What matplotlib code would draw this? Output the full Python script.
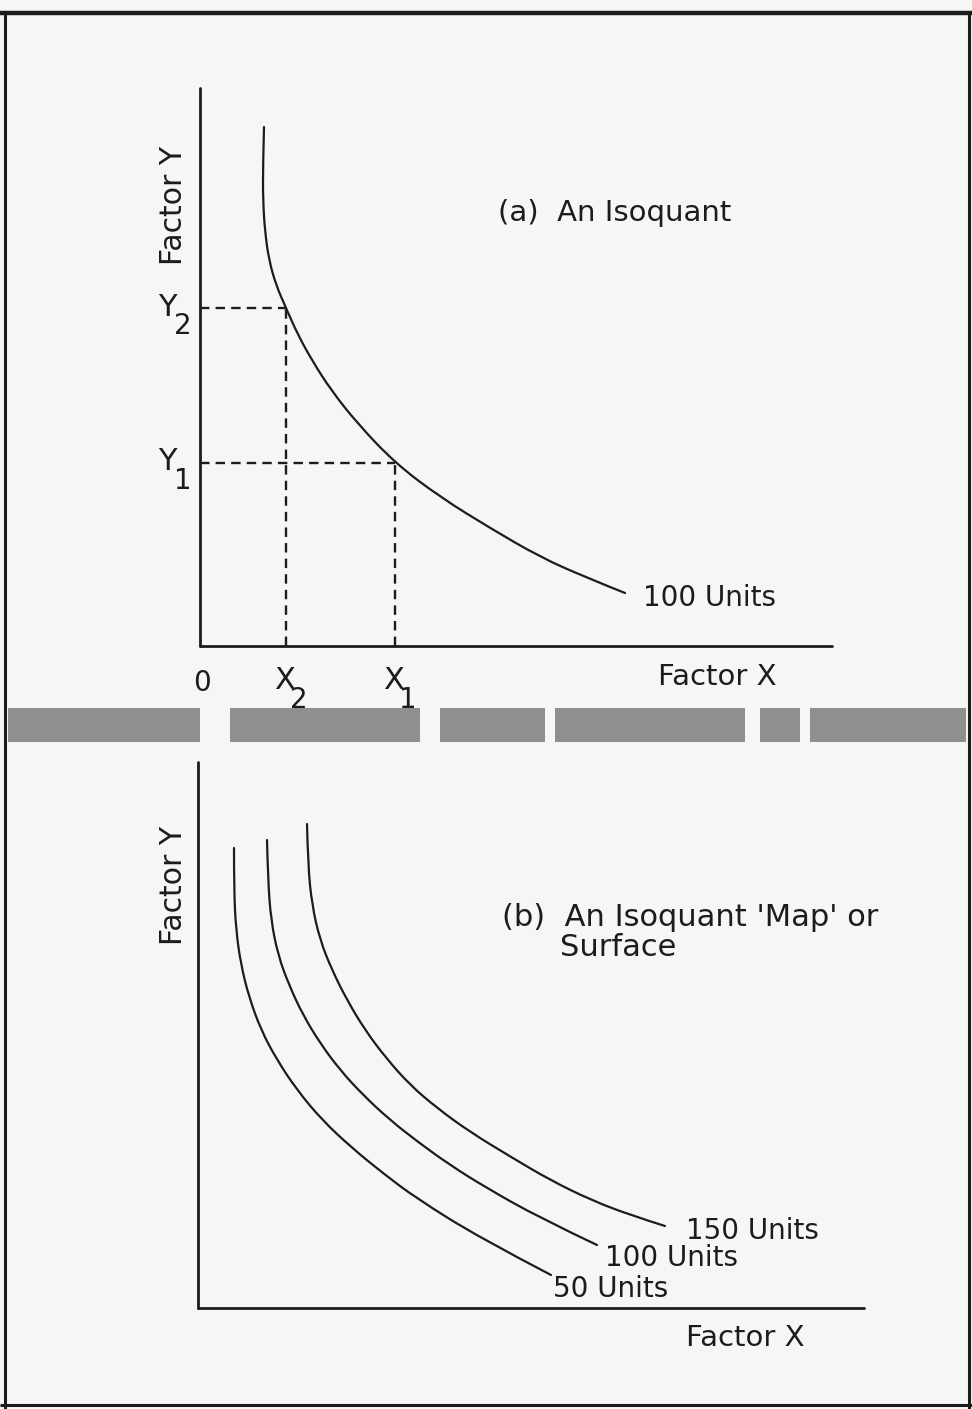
import matplotlib
matplotlib.use("Agg")
import matplotlib.pyplot as plt
from matplotlib.patches import Rectangle, PathPatch
from matplotlib.path import Path
from matplotlib.lines import Line2D

plt.rcParams['font.family'] = ['DejaVu Sans']

# ---------------- data ----------------
# panel (a): one isoquant, 100 units
iso_a_x = [6.4, 6.3, 6.3, 6.5, 6.9, 7.6, 8.6, 9.8, 11.3, 13.1, 15.7, 19.5, 24.0, 29.0, 34.0, 38.5, 42.5]
iso_a_y = [51.9, 48.1, 44.6, 41.4, 38.6, 36.1, 33.8, 31.1, 28.4, 25.6, 22.3, 18.3, 14.9, 11.8, 8.9, 6.9, 5.3]
iso_a_label = "100 Units"
x_levels = [8.6, 19.5]          # X2, X1
y_levels = [33.8, 18.3]         # Y2, Y1
level_names = ["2", "1"]

# panel (b): isoquant map
iso_b_labels = ["50 Units", "100 Units", "150 Units"]
iso_b_x = [
    [3.6, 3.6, 3.8, 4.3, 5.1, 6.3, 7.9, 9.9, 12.4, 15.4, 18.6, 21.8, 28.2, 35.3],
    [6.9, 7.0, 7.3, 8.0, 9.1, 10.5, 12.2, 14.2, 16.5, 19.2, 22.0, 25.2, 28.7, 34.2, 39.9],
    [10.9, 11.0, 11.4, 12.2, 13.4, 14.9, 16.7, 18.8, 21.2, 23.9, 27.2, 31.3, 35.2, 39.3, 43.2, 46.7],
]
iso_b_y = [
    [46.0, 41.8, 37.8, 34.3, 31.1, 27.8, 24.8, 21.8, 18.8, 16.0, 13.4, 11.0, 7.0, 3.3],
    [46.8, 42.8, 38.8, 35.3, 32.3, 29.3, 26.5, 23.8, 21.3, 18.8, 16.6, 14.3, 12.1, 9.0, 6.3],
    [48.4, 44.3, 40.3, 36.8, 33.8, 30.8, 27.8, 25.0, 22.3, 20.0, 17.6, 15.1, 12.8, 10.8, 9.3, 8.2],
]

INK = "#1c1c1c"
W, H = 972, 1409
fig = plt.figure(figsize=(W / 100, H / 100), dpi=100)
fig.patch.set_facecolor("#f6f6f5")


def fx(px):
    return px / W


def fy(py):
    return 1 - py / H


def make_axes(x0, y0, x1, y1):
    ax = fig.add_axes([fx(x0), fy(y0), fx(x1) - fx(x0), fy(y1) - fy(y0)])
    ax.set_xlim(0, (x1 - x0) / 10)
    ax.set_ylim(0, (y0 - y1) / 10)
    ax.patch.set_alpha(0)
    for s in ["top", "right"]:
        ax.spines[s].set_visible(False)
    for s in ["left", "bottom"]:
        ax.spines[s].set_linewidth(2.0)
        ax.spines[s].set_color(INK)
        ax.spines[s].set_capstyle("round")
    ax.set_xticks([])
    ax.set_yticks([])
    return ax


def smooth_curve(ax, xs, ys, lw=1.6):
    """Quadratic B-spline style path using the read points as control points."""
    pts = list(zip(xs, ys))
    verts = [pts[0]]
    codes = [Path.MOVETO]
    n = len(pts)
    for i in range(1, n - 1):
        if i < n - 2:
            end = ((pts[i][0] + pts[i + 1][0]) / 2, (pts[i][1] + pts[i + 1][1]) / 2)
        else:
            end = pts[n - 1]
        verts += [pts[i], end]
        codes += [Path.CURVE3, Path.CURVE3]
    patch = PathPatch(Path(verts, codes), facecolor="none", edgecolor=INK,
                      lw=lw, capstyle="round", clip_on=False)
    ax.add_patch(patch)


txt = dict(color=INK, family="DejaVu Sans")

# ---------------- panel (a) ----------------
axa = make_axes(200, 646, 832, 88)
smooth_curve(axa, iso_a_x, iso_a_y)
for xv, yv, nm in zip(x_levels, y_levels, level_names):
    axa.plot([0, xv], [yv, yv], color=INK, lw=1.7, ls=(0, (4, 2.6)))
    axa.plot([xv, xv], [0, yv], color=INK, lw=1.7, ls=(0, (4, 2.6)))
    axa.text(-3.3, yv + 0.1, "Y", fontsize=22, ha="center", va="center", **txt)
    axa.text(-1.7, yv - 1.8, nm, fontsize=20, ha="center", va="center", **txt)
    axa.text(xv - 0.1, -3.4, "X", fontsize=22, ha="center", va="center", **txt)
    axa.text(xv + 1.3, -5.4, nm, fontsize=20, ha="center", va="center", **txt)
axa.text(0.2, -3.7, "0", fontsize=20, ha="center", va="center", **txt)
axa.text(51.7, -3.1, "Factor X", fontsize=21, ha="center", va="center", **txt)
axa.text(-2.7, 44.1, "Factor Y", fontsize=21.5, ha="center", va="center", rotation=90, **txt)
axa.text(41.5, 43.3, "(a)  An Isoquant", fontsize=21, ha="center", va="center", **txt)
axa.text(iso_a_x[-1] + 1.8, iso_a_y[-1] - 0.5, iso_a_label, fontsize=20, ha="left", va="center", **txt)

# ---------------- panel (b) ----------------
axb = make_axes(198, 1308, 864, 762)
label_offsets = [(0.2, -1.4), (0.8, -1.3), (2.1, -0.5)]
for xs, ys, lab, (dx, dy) in zip(iso_b_x, iso_b_y, iso_b_labels, label_offsets):
    smooth_curve(axb, xs, ys)
    axb.text(xs[-1] + dx, ys[-1] + dy, lab, fontsize=20, ha="left", va="center", **txt)
axb.text(-2.5, 42.3, "Factor Y", fontsize=21.5, ha="center", va="center", rotation=90, **txt)
axb.text(30.4, 39.0, "(b)  An Isoquant 'Map' or", fontsize=22, ha="left", va="center", **txt)
axb.text(36.2, 36.1, "Surface", fontsize=22, ha="left", va="center", **txt)
axb.text(54.7, -3.0, "Factor X", fontsize=21, ha="center", va="center", **txt)

# ---------------- page frame and scan gutter ----------------
frame = dict(color=INK, transform=fig.transFigure, solid_capstyle="butt")
fig.add_artist(Line2D([0, 1], [fy(13), fy(13)], lw=3.2, **frame))
fig.add_artist(Line2D([fx(5), fx(5)], [fy(13), 0], lw=2.2, **frame))
fig.add_artist(Line2D([fx(969), fx(969)], [fy(13), 0], lw=2.2, **frame))
fig.add_artist(Line2D([0, 1], [fy(1405), fy(1405)], lw=2.2, **frame))

gutter = [(8, 200), (230, 420), (440, 545), (555, 745), (760, 800), (810, 966)]
for a, b in gutter:
    fig.add_artist(Rectangle((fx(a), fy(742)), fx(b) - fx(a), fy(708) - fy(742),
                             transform=fig.transFigure, facecolor="#4a4a4a",
                             alpha=0.6, edgecolor="none"))

fig.savefig("out.png", dpi=100, facecolor=fig.get_facecolor())
